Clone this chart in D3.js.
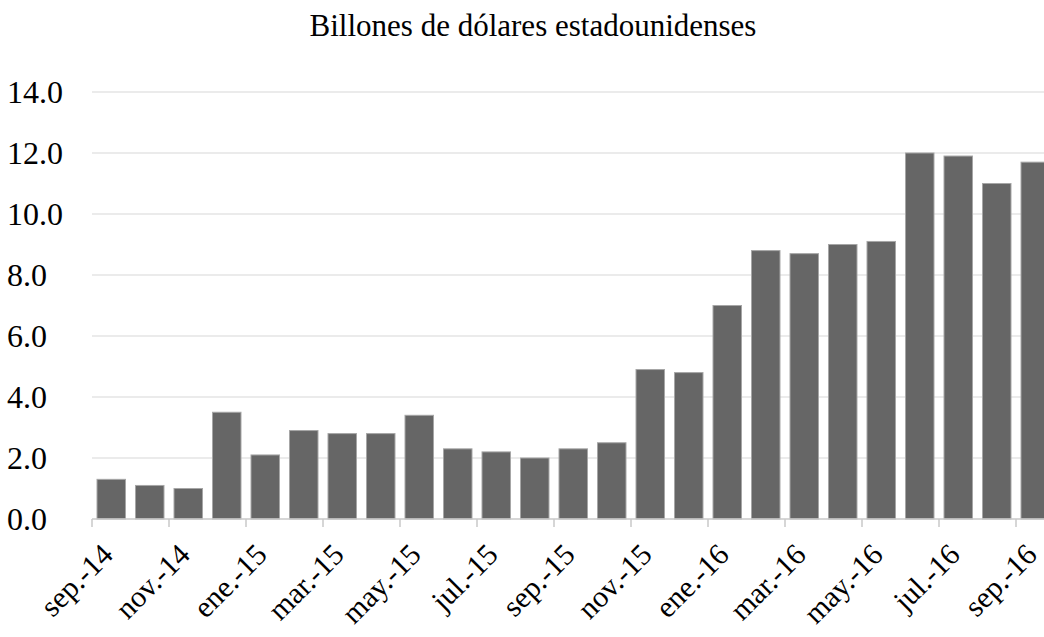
<!DOCTYPE html>
<html>
<head>
<meta charset="utf-8">
<script src="https://cdn.jsdelivr.net/npm/d3@7"></script>
<style>
  body { margin: 0; background: #fff; }
  text { font-family: "Liberation Serif", "Times New Roman", serif; fill: #000; }
</style>
</head>
<body>
<div id="graph"></div>
<script>
const months = ["sep.-14", "oct.-14", "nov.-14", "dic.-14", "ene.-15", "feb.-15", "mar.-15",
    "abr.-15", "may.-15", "jun.-15", "jul.-15", "ago.-15", "sep.-15", "oct.-15", "nov.-15",
    "dic.-15", "ene.-16", "feb.-16", "mar.-16", "abr.-16", "may.-16", "jun.-16", "jul.-16",
    "ago.-16", "sep.-16"];
const values = [1.3, 1.1, 1.0, 3.5, 2.1, 2.9, 2.8, 2.8, 3.4, 2.3, 2.2, 2.0, 2.3, 2.5, 4.9,
    4.8, 7.0, 8.8, 8.7, 9.0, 9.1, 12.0, 11.9, 11.0, 11.7];
const yTicks = [0, 2, 4, 6, 8, 10, 12, 14];
const title = "Billones de dólares estadounidenses";

const data = months.map(function(m, i) { return {month: m, value: values[i]}; });

const width = 1044, height = 637;
const plotLeft = 92, step = 38.5, plotTop = 92, plotBottom = 519;

const x = d3.scaleBand()
    .domain(months)
    .range([plotLeft, plotLeft + step * months.length])
    .paddingInner(0.26)
    .paddingOuter(0.13);
const y = d3.scaleLinear()
    .domain([0, 14])
    .range([plotBottom, plotTop]);

const svg = d3.select("#graph")
    .append("svg")
    .attr("width", width)
    .attr("height", height);

// title
svg.append("text")
    .attr("x", 533)
    .attr("y", 36)
    .attr("text-anchor", "middle")
    .style("font-size", "31px")
    .text(title);

// gridlines
svg.append("g")
    .selectAll("line")
    .data(yTicks.filter(function(d) { return d > 0; }))
    .enter().append("line")
    .attr("x1", plotLeft)
    .attr("x2", width)
    .attr("y1", function(d) { return y(d); })
    .attr("y2", function(d) { return y(d); })
    .attr("stroke", "#e4e4e4")
    .attr("stroke-width", 1.5);

// y labels
svg.append("g")
    .selectAll("text")
    .data(yTicks)
    .enter().append("text")
    .attr("x", 7)
    .attr("y", function(d) { return y(d); })
    .attr("dy", "0.35em")
    .style("font-size", "32px")
    .text(function(d) { return d.toFixed(1); });

// bars
svg.selectAll(".bar")
    .data(data)
    .enter().append("rect")
    .attr("class", "bar")
    .attr("x", function(d) { return x(d.month); })
    .attr("width", x.bandwidth())
    .attr("y", function(d) { return y(d.value); })
    .attr("height", function(d) { return y(0) - y(d.value); })
    .attr("fill", "#666666")
    .attr("stroke", "#a6a6a6")
    .attr("stroke-width", 1);

// x axis
const boundary = function(m) { return x(m) - x.step() * x.paddingInner() / 2; };
const shown = months.filter(function(d, i) { return i % 2 === 0; });
const xAxis = svg.append("g");
xAxis.append("line")
    .attr("x1", plotLeft)
    .attr("x2", width)
    .attr("y1", y(0))
    .attr("y2", y(0))
    .attr("stroke", "#c8c8c8")
    .attr("stroke-width", 1.5);
xAxis.selectAll(".tick")
    .data(shown)
    .enter().append("line")
    .attr("class", "tick")
    .attr("x1", boundary)
    .attr("x2", boundary)
    .attr("y1", y(0))
    .attr("y2", y(0) + 8)
    .attr("stroke", "#c8c8c8")
    .attr("stroke-width", 1.5);
xAxis.selectAll(".lbl")
    .data(shown)
    .enter().append("text")
    .attr("class", "lbl")
    .attr("text-anchor", "end")
    .attr("dy", "0.35em")
    .style("font-size", "30px")
    .attr("transform", function(d) {
        return "translate(" + (x(d) + x.bandwidth() / 2 - 4) + "," + (y(0) + 30) + ") rotate(-45)";
    })
    .text(function(d) { return d; });
</script>
</body>
</html>
